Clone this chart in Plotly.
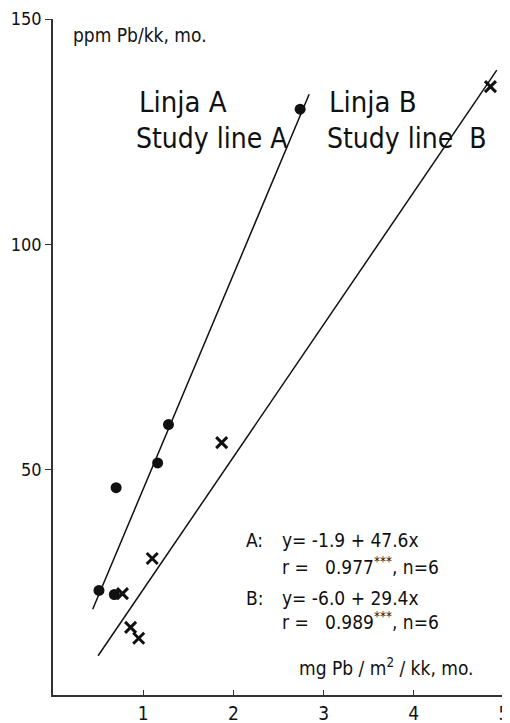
import plotly.graph_objects as go

# Study line A (dots)
a_x = [0.51, 0.68, 0.70, 1.16, 1.28, 2.74]
a_y = [23.2, 22.3, 46.0, 51.5, 60.0, 130.0]
# Study line B (crosses)
b_x = [0.77, 0.86, 0.95, 1.10, 1.87, 4.85]
b_y = [22.5, 15.0, 12.6, 30.3, 56.0, 135.0]

# regression lines: y = intercept + slope * x
a_intercept, a_slope = -1.9, 47.6
b_intercept, b_slope = -6.0, 29.4
a_line_x = [0.44, 2.84]
b_line_x = [0.50, 4.92]

x_ticks = [1, 2, 3, 4, 5]
y_ticks = [50, 100, 150]

FONT = "DejaVu Sans Condensed, Liberation Sans Narrow, DejaVu Sans, sans-serif"
INK = "#111111"

fig = go.Figure()
fig.add_trace(go.Scatter(x=a_line_x, y=[a_intercept + a_slope * v for v in a_line_x],
                         mode="lines", line=dict(color=INK, width=1.5), showlegend=False))
fig.add_trace(go.Scatter(x=b_line_x, y=[b_intercept + b_slope * v for v in b_line_x],
                         mode="lines", line=dict(color=INK, width=1.5), showlegend=False))
fig.add_trace(go.Scatter(x=a_x, y=a_y, mode="markers",
                         marker=dict(symbol="circle", size=11, color=INK), showlegend=False))
fig.add_trace(go.Scatter(x=b_x, y=b_y, mode="markers",
                         marker=dict(symbol="x-thin", size=11, color=INK,
                                     line=dict(color=INK, width=3)), showlegend=False))

def txt(x, y, s, size):
    fig.add_annotation(x=x, y=y, xref="x", yref="y", text=s, showarrow=False,
                       xanchor="left", yanchor="middle",
                       font=dict(family=FONT, size=size, color=INK))

STARS = "<sup><span style='color:#111111'>***</span></sup>"

txt(0.20, 146.5, "ppm Pb/kk, mo.", 19)
txt(0.93, 131.5, "Linja A", 29)
txt(0.90, 123.5, "Study line A", 28)
txt(3.04, 131.5, "Linja B", 29)
txt(3.01, 123.5, "Study line  B", 28)
txt(2.12, 34.3, "A:", 19)
txt(2.52, 34.3, "y= -1.9 + 47.6x", 19)
txt(2.52, 28.6, "r =   0.977" + STARS + ", n=6", 19)
txt(2.12, 21.5, "B:", 19)
txt(2.52, 21.5, "y= -6.0 + 29.4x", 19)
txt(2.52, 16.4, "r =   0.989" + STARS + ", n=6", 19)
txt(2.70, 6.2, "mg Pb / m<sup>2</sup> / kk, mo.", 19)

# the page body adds an 8px offset; the figure is sized to fit the window
fig.update_layout(
    width=502, height=715,
    margin=dict(l=45, r=6, t=11, b=28),
    paper_bgcolor="white", plot_bgcolor="white",
    font=dict(family=FONT, size=19, color=INK),
)
fig.update_xaxes(range=[0, 5], tickvals=x_ticks, ticktext=[str(v) for v in x_ticks],
                 showgrid=False, zeroline=False, showline=True, linecolor="#333333",
                 linewidth=1.6, ticks="inside", ticklen=5, tickcolor="#333333",
                 tickfont=dict(size=19), ticklabelstandoff=0, automargin=False,
                 ticklabeloverflow="allow")
fig.update_yaxes(range=[0, 150], tickvals=y_ticks, ticktext=[str(v) for v in y_ticks],
                 showgrid=False, zeroline=False, showline=True, linecolor="#333333",
                 linewidth=1.6, ticks="outside", ticklen=6, tickcolor="#333333",
                 tickfont=dict(size=18), automargin=False, ticklabeloverflow="allow")

fig.write_html("out.html")
